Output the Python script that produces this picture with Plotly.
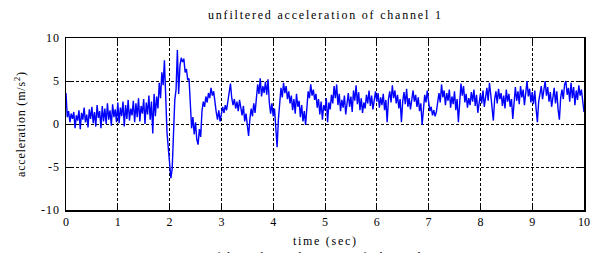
import plotly.graph_objects as go

# ---- data ----
sample_interval = 0.025  # seconds between samples
acc_0_1s = [3.6, 0.8, 1.5, 0.2, 1.2, 0.6, 1.4, -0.5, 1.0, 0.4,
            1.6, -0.6, 1.3, 0.5, 1.9, 0.2, 1.1, -0.4, 1.7, 0.6,
            2.0, 0.1, 1.4, -0.3, 2.2, 0.7, 1.5, -0.5, 2.1, 0.3,
            1.8, 0.0, 2.4, 0.5, 1.6, -0.2, 2.3, 0.8, 1.7, 0.2]
acc_1_2s = [2.5, 0.1, 1.9, 0.9, 2.6, -0.3, 2.2, 0.6, 2.8, 0.4,
            1.8, 1.0, 2.7, 0.2, 2.4, 0.8, 3.0, 0.3, 2.1, 1.2,
            2.9, 0.0, 2.5, 1.1, 3.3, 0.5, 2.6, -1.1, 3.5, 0.9,
            3.2, 1.8, 4.8, 3.0, 6.0, 4.5, 7.4, 1.5, -1.0, -2.8]
acc_2_3s = [-5.0, -6.3, -5.2, -1.5, 2.8, 4.0, 8.6, 3.5, 6.8, 7.7,
            7.2, 7.6, 6.0, 6.4, 5.1, 5.3, 2.0, -0.5, 0.8, -1.2,
            0.2, -1.8, -2.4, -0.6, -1.5, 1.5, 2.6, 2.0, 3.2, 2.5,
            3.6, 3.0, 4.2, 3.3, 3.8, 2.2, 1.4, 0.5, 1.6, 0.3]
acc_3_4s = [1.0, 2.0, 1.3, 2.2, 1.6, 2.5, 3.4, 4.7, 3.0, 2.2,
            2.9, 1.8, 2.6, 1.5, 2.8, 1.9, 1.0, 2.1, 0.3, 1.2,
            -0.4, -1.4, 0.6, 1.8, 0.9, 2.4, 1.3, 2.7, 4.6, 3.5,
            5.3, 3.2, 4.4, 3.6, 4.9, 3.4, 5.2, 2.5, 1.2, 2.4]
acc_4_5s = [0.9, 1.8, -1.0, -2.7, 0.5, 2.5, 4.2, 3.1, 4.8, 3.6,
            4.4, 2.9, 3.8, 2.4, 3.3, 1.6, 2.9, 1.2, 3.5, 2.0,
            2.7, 0.8, 2.2, 0.3, 1.5, -0.1, 2.6, 3.8, 3.0, 4.6,
            3.3, 4.0, 2.8, 3.5, 1.9, 2.9, 1.1, 2.6, 0.5, 2.2]
acc_5_6s = [1.6, 3.0, 0.2, 2.5, 1.7, 3.4, 2.4, 4.4, 3.0, 4.6,
            2.2, 3.5, 1.5, 2.8, 1.9, 3.3, 1.1, 2.6, 3.6, 2.0,
            3.2, 1.4, 3.9, 2.7, 4.5, 2.3, 3.7, 1.6, 3.0, 1.3,
            2.5, 1.8, 3.4, 2.4, 3.9, 2.1, 3.3, 1.7, 2.9, 3.8]
acc_6_7s = [2.6, 3.6, 1.9, 3.1, 2.2, 3.5, 1.6, 2.8, 0.2, 2.9,
            3.8, 2.5, 4.5, 3.0, 3.9, 2.4, 3.4, 1.8, 2.9, 0.2,
            2.6, 3.7, 2.3, 4.1, 2.0, 3.0, 1.7, 2.7, 3.9, 2.6,
            3.4, 2.0, 3.1, 1.5, 2.4, -0.1, 1.8, 3.4, 2.5, 3.9]
acc_7_8s = [2.6, 1.5, 2.0, 1.0, 1.6, 0.9, 1.4, 2.8, 3.6, 2.5,
            4.6, 3.1, 3.9, 2.2, 3.6, 2.7, 4.0, 1.9, 3.2, 2.3,
            3.8, 1.6, 2.9, 0.2, 3.0, 4.7, 3.3, 4.4, 2.5, 3.5,
            1.9, 3.0, 2.2, 3.7, 2.6, 4.0, 2.1, 3.4, 1.3, 2.8]
acc_8_9s = [3.5, 2.4, 3.9, 2.0, 3.1, 4.2, 2.7, 4.8, 3.4, 1.7,
            0.4, 2.9, 3.8, 2.4, 4.1, 2.9, 3.6, 2.1, 3.3, 1.8,
            4.0, 2.6, 3.5, 2.0, 2.9, 0.6, 2.8, 4.3, 2.7, 3.8,
            2.3, 4.4, 3.1, 4.0, 2.2, 3.6, 5.0, 3.2, 4.1, 2.5]
acc_9_10s = [3.7, 2.3, 3.9, 1.8, 0.2, 2.6, 3.5, 4.4, 2.9, 4.1,
             5.0, 3.3, 4.3, 2.6, 3.7, 2.0, 3.4, 4.2, 2.4, 3.8,
             1.7, 0.5, 3.1, 4.0, 2.9, 4.6, 5.0, 3.4, 4.2, 2.6,
             4.8, 3.0, 4.3, 2.2, 3.9, 2.8, 4.5, 3.3, 4.0, 2.5,
             1.4]

x_tick_values = [0, 1, 2, 3, 4, 5, 6, 7, 8, 9, 10]
x_tick_labels = ["0", "1", "2", "3", "4", "5", "6", "7", "8", "9", "10"]
y_tick_values = [-10, -5, 0, 5, 10]
y_tick_labels = ["-10", "-5", "0", "5", "10"]

title_text = "unfiltered acceleration of channel 1"
next_title_text = "filtered acceleration of channel 1"
x_label = "time (sec)"
y_label = "acceleration (m/s<sup>2</sup>)"

acceleration = (acc_0_1s + acc_1_2s + acc_2_3s + acc_3_4s + acc_4_5s +
                acc_5_6s + acc_6_7s + acc_7_8s + acc_8_9s + acc_9_10s)
time = [round(i * sample_interval, 3) for i in range(len(acceleration))]

# ---- figure ----
FONT = "Liberation Serif"


def spaced(s, sp=1.2):
    return '<span style="letter-spacing:%.1fpx">%s</span>' % (sp, s)


fig = go.Figure()
fig.add_trace(go.Scatter(x=time, y=acceleration, mode="lines",
                         line=dict(color="#0000FF", width=1.4),
                         hoverinfo="skip", showlegend=False))

axis_common = dict(
    showline=True, linecolor="black", linewidth=1.5, mirror="ticks",
    ticks="inside", ticklen=5, tickcolor="black", tickwidth=1,
    showgrid=True, gridcolor="black", gridwidth=1, griddash="3px,2px",
    zeroline=False, automargin=False,
    tickfont=dict(family=FONT, size=12, color="black"),
)

fig.update_layout(
    width=592, height=253,
    margin=dict(l=66, r=8, t=38, b=43),
    paper_bgcolor="white", plot_bgcolor="white",
    font=dict(family=FONT, size=12, color="black"),
    xaxis=dict(range=[0, 10], tickmode="array", tickvals=x_tick_values,
               ticktext=x_tick_labels, ticklabelstandoff=0, **axis_common),
    yaxis=dict(range=[-10, 10], tickmode="array", tickvals=y_tick_values,
               ticktext=[spaced(t, 1.0) for t in y_tick_labels],
               ticklabelstandoff=2, **axis_common),
    annotations=[
        dict(text=spaced(title_text, 1.8), xref="paper", yref="paper",
             x=0.5, y=1.0, yshift=23, showarrow=False,
             xanchor="center", yanchor="middle",
             font=dict(family=FONT, size=12, color="black")),
        dict(text=spaced(x_label, 1.7), xref="paper", yref="paper",
             x=0.5, y=0, yshift=-31, showarrow=False,
             xanchor="center", yanchor="middle",
             font=dict(family=FONT, size=12, color="black")),
        dict(text=spaced(next_title_text, 1.8), xref="paper", yref="paper",
             x=0.5, y=0, yshift=-47, showarrow=False,
             xanchor="center", yanchor="middle",
             font=dict(family=FONT, size=12, color="black")),
        dict(text=spaced(y_label, 0.8), xref="paper", yref="paper",
             x=0, xshift=-46, y=0.5, showarrow=False, textangle=-90,
             xanchor="center", yanchor="middle",
             font=dict(family=FONT, size=12, color="black")),
    ],
)

fig.write_html("out.html",
               config={"displayModeBar": False, "staticPlot": True},
               post_script="document.body.style.margin='0';"
                           "document.body.style.overflow='hidden';")
